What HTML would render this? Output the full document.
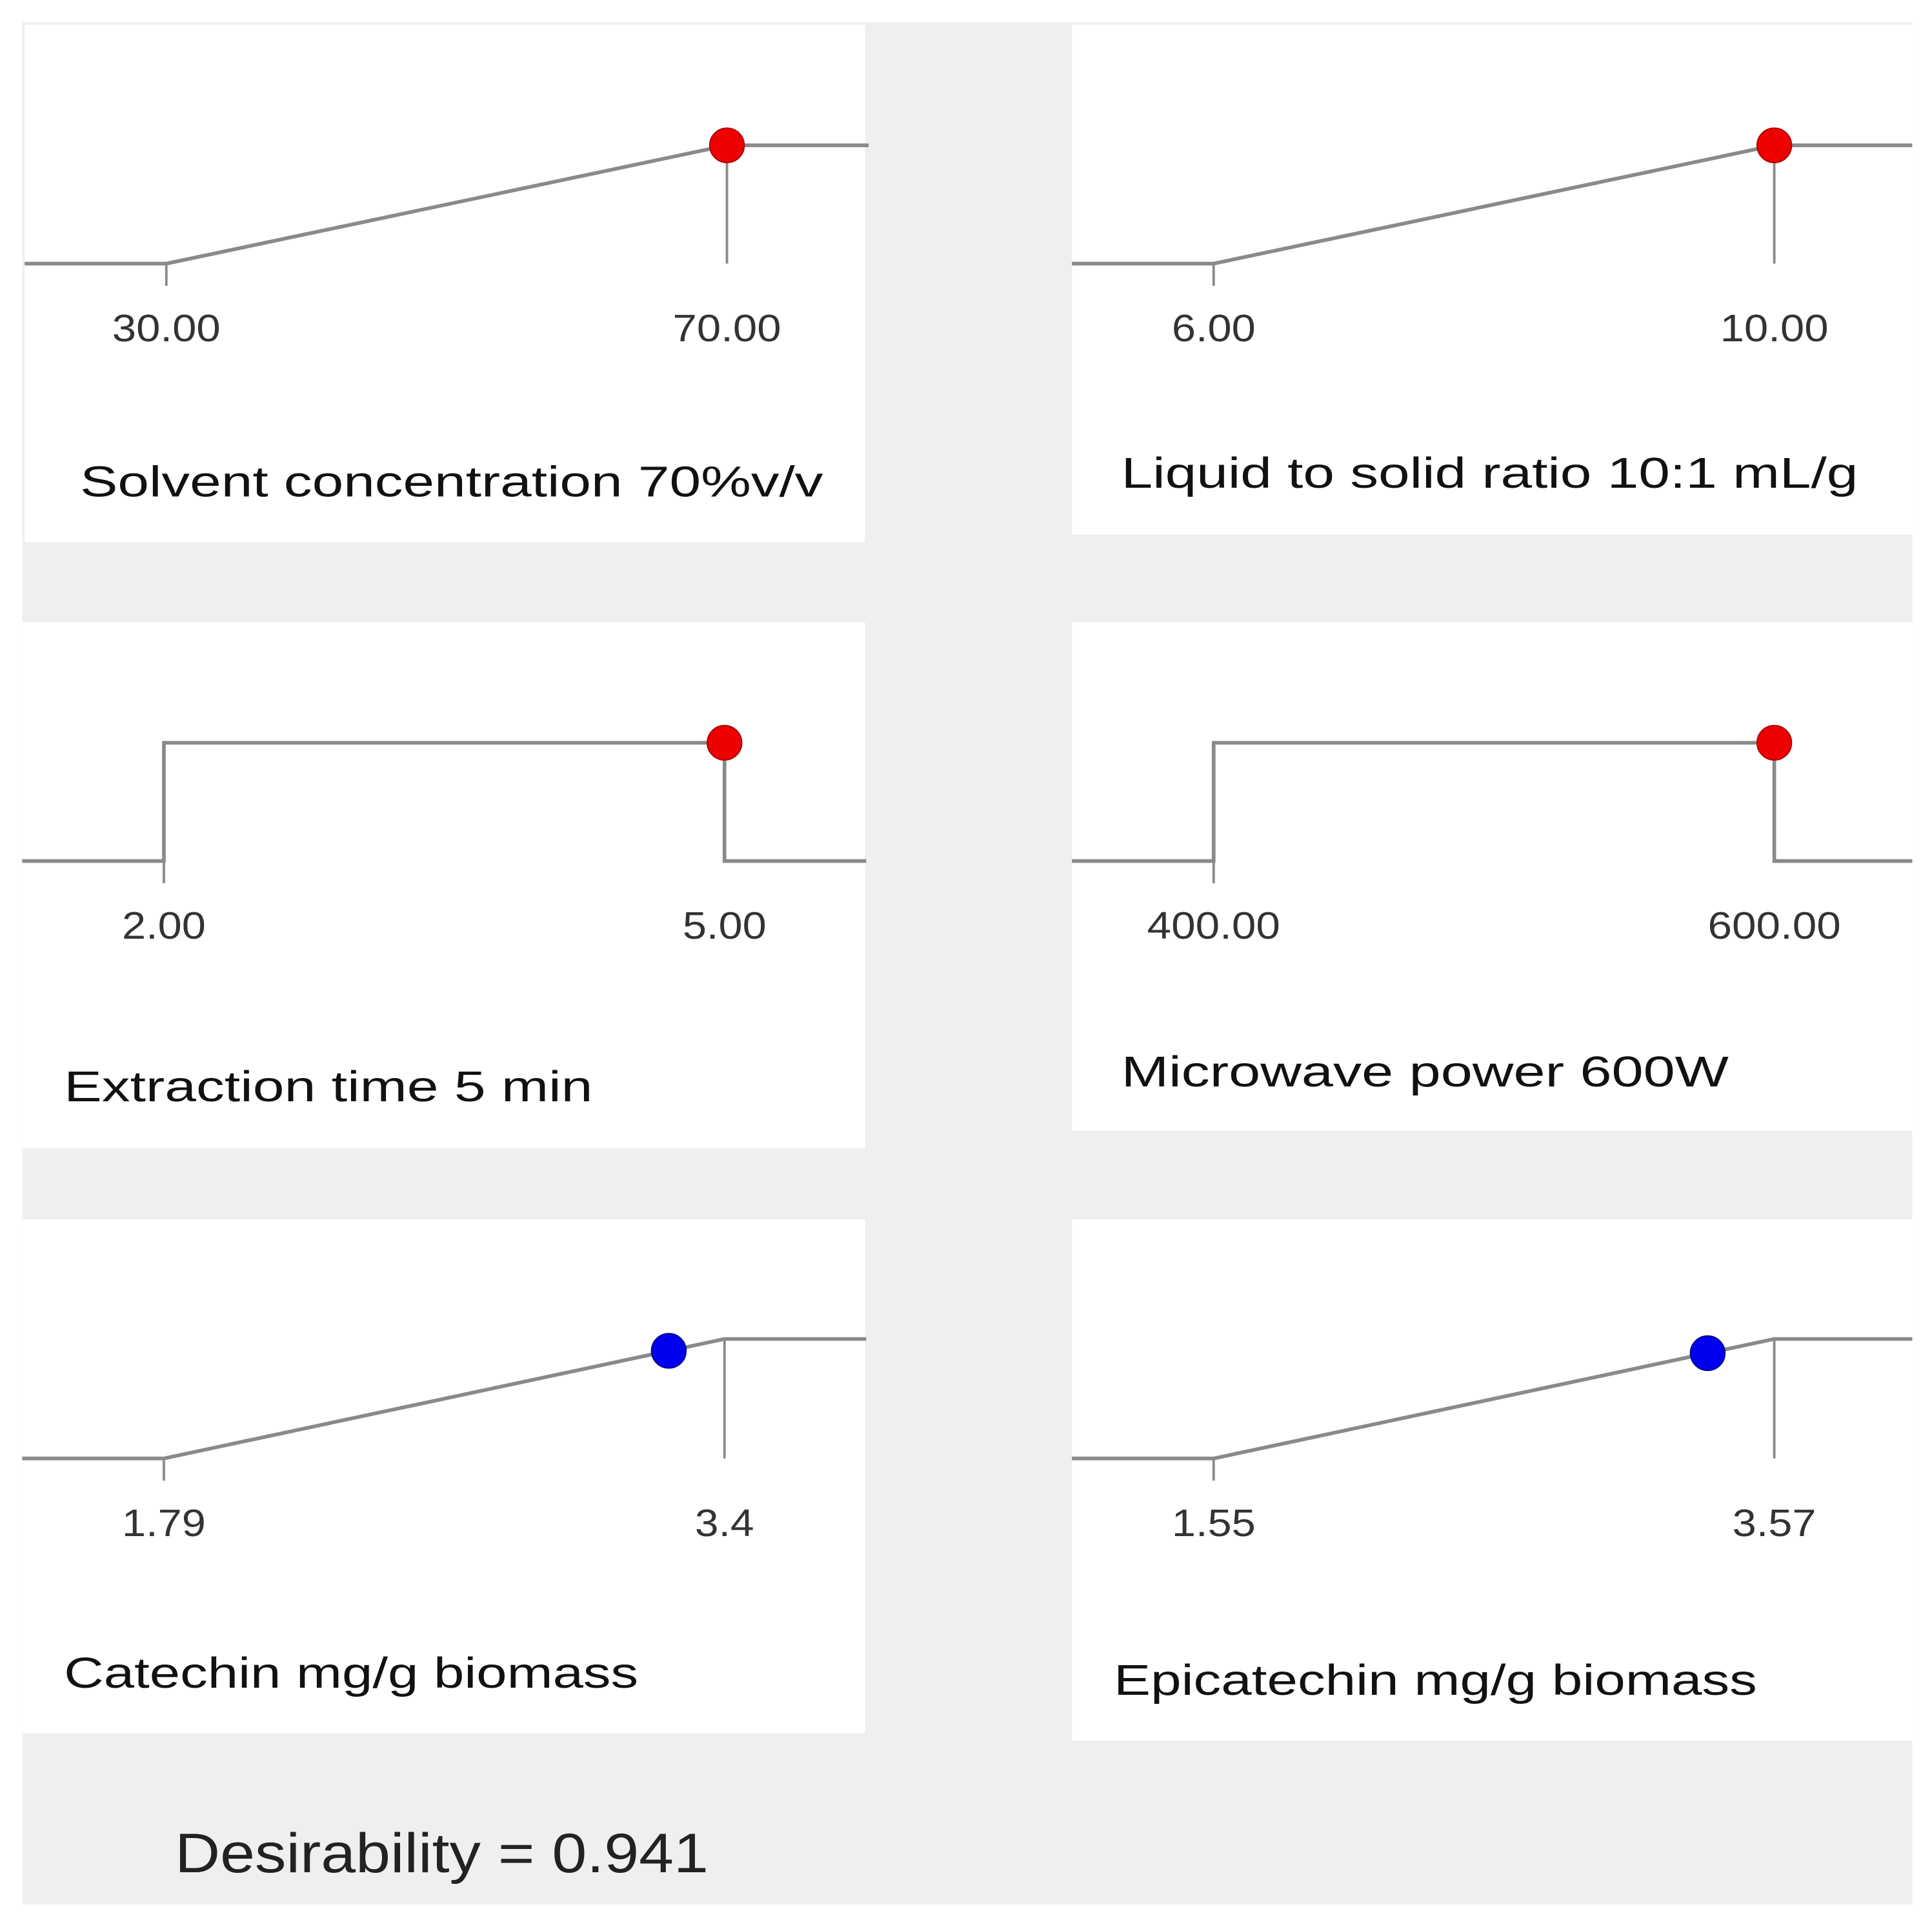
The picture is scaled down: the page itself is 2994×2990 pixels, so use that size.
<!DOCTYPE html>
<html><head><meta charset="utf-8"><style>
html,body{margin:0;padding:0;background:#fff;}
svg{display:block;}
text{font-family:"Liberation Sans",sans-serif;}
</style></head><body>
<svg id="c" width="2994" height="2990" viewBox="0 0 1568 1566" preserveAspectRatio="none" xmlns="http://www.w3.org/2000/svg">
<rect x="0" y="0" width="1568" height="1566" fill="#ffffff"/>
<rect x="18" y="18" width="1534" height="1528" fill="#efefef"/>
<text x="142" y="1520" font-size="45" fill="#222" textLength="433" lengthAdjust="spacingAndGlyphs">Desirability = 0.941</text>
</svg>
<script>
const titles = ["Solvent concentration 70%v/v","Liquid to solid ratio 10:1 mL/g","Extraction time 5 min","Microwave power 600W","Catechin mg/g biomass","Epicatechin mg/g biomass"];
const lows = [30,6,2,400,1.79,1.55];
const highs = [70,10,5,600,3.4,3.57];
const lowLabels = ["30.00","6.00","2.00","400.00","1.79","1.55"];
const highLabels = ["70.00","10.00","5.00","600.00","3.4","3.57"];
const values = [70,10,5,600,3.24,3.33];
const kinds = ["ramp","ramp","step","step","ramp","ramp"];
const NS="http://www.w3.org/2000/svg";
const svg=document.getElementById('c');
const panels=[
 {x:20,y:20,w:682,h:420,tx:65,ty:403,tw:603},
 {x:870,y:20,w:682,h:414,tx:910,ty:396,tw:598},
 {x:18,y:505,w:684,h:427,tx:52,ty:894,tw:429},
 {x:870,y:505,w:682,h:413,tx:910,ty:882,tw:493},
 {x:18,y:990,w:684,h:417,tx:52,ty:1370,tw:466},
 {x:870,y:990,w:682,h:423,tx:904,ty:1376,tw:522}];
function el(t,a){const e=document.createElementNS(NS,t);for(const k in a)e.setAttribute(k,a[k]);svg.appendChild(e);return e;}
function labW(s){let w=0;for(const ch of s)w+=(ch==='.'?8:20);return w;}
panels.forEach((p,i)=>{
  const r=el('rect',{x:p.x,y:p.y,width:p.w,height:p.h,fill:'#fff'});
  
  
  const x0=p.x+115, x1=p.x+570, right=p.x+685-(i%2?3:0);
  const resp=i>=4;
  const yLow=p.y+194, yTop=p.y+(resp?97:98);
  const sx=v=>x0+(v-lows[i])/(highs[i]-lows[i])*(x1-x0);
  const d=(values[i]-lows[i])/(highs[i]-lows[i]);
  let pts;
  if(kinds[i]==='step') pts=[[p.x,yLow],[x0,yLow],[x0,yTop],[x1,yTop],[x1,yLow],[right,yLow]];
  else pts=[[p.x,yLow],[x0,yLow],[x1,yTop],[right,yTop]];
  const pl=el('polyline',{points:pts.map(q=>q.join(',')).join(' '),fill:'none',stroke:'#8a8a8a','stroke-width':3});
  
  
  const t0=el('line',{x1:x0,y1:yLow,x2:x0,y2:yLow+18,stroke:'#8a8a8a','stroke-width':2});
  
  
  if(kinds[i]!=='step'){
    const t1=el('line',{x1:x1,y1:yTop,x2:x1,y2:yLow,stroke:'#8a8a8a','stroke-width':2});
    
    
  }
  const cx=sx(values[i]), cy=yLow-d*(yLow-yTop);
  const dot=el('circle',{cx:cx,cy:cy,r:14,fill:resp?'#0000ee':'#ee0000',stroke:resp?'#00008a':'#aa0000','stroke-width':1});
  
  
  [[x0,lowLabels[i],'low'],[x1,highLabels[i],'high']].forEach(([x,s,n])=>{
    const t=el('text',{x:x,y:p.y+257,'font-size':31,'text-anchor':'middle',fill:'#333',textLength:labW(s),lengthAdjust:'spacingAndGlyphs'});
    t.textContent=s;
    
    
  });
  const tt=el('text',{x:p.tx,y:p.ty,'font-size':35,fill:'#111',textLength:p.tw,lengthAdjust:'spacingAndGlyphs'});
  tt.textContent=titles[i];
  
  
});
</script>
</body></html>
